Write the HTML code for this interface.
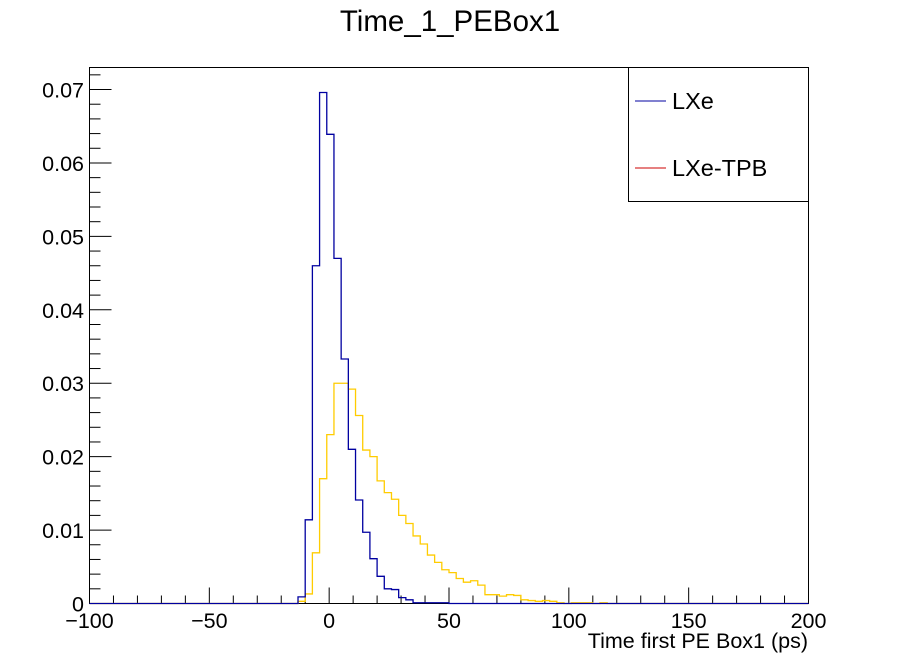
<!DOCTYPE html>
<html><head><meta charset="utf-8"><style>
body{margin:0;background:#fff;}
svg{display:block;font-family:"Liberation Sans",sans-serif;}
</style></head><body>
<svg id="c" width="898" height="671" viewBox="0 0 898 671">
<rect x="0" y="0" width="898" height="671" fill="#fff"/>
<text x="450" y="31" font-size="29.5" text-anchor="middle">Time_1_PEBox1</text>
<rect x="89.5" y="67.5" width="719" height="536" fill="none" stroke="#000" stroke-width="1"/>
<g id="axes"></g>
<g id="series"></g>
<text x="808" y="648" font-size="21.5" text-anchor="end">Time first PE Box1 (ps)</text>
<g>
<rect x="628.5" y="67.5" width="180" height="134" fill="#fff" stroke="#000" stroke-width="1"/>
<line x1="635" y1="101" x2="666" y2="101" stroke="#0000a0" stroke-width="1"/>
<text x="672" y="109" font-size="23.5">LXe</text>
<line x1="635" y1="168" x2="666" y2="168" stroke="#cc0000" stroke-width="1"/>
<text x="672" y="176" font-size="23.5">LXe-TPB</text>
</g>
</svg>
<script>
const binStart = -13;
const binWidth = 3;
const lxeValues = [0.0009,0.0114,0.0460,0.0696,0.0639,0.0470,0.0333,0.0210,0.0141,0.0097,0.0061,0.0037,0.0020,0.0019,0.0008,0.0005,0.0001,0.0001,0.0001,0.0001,0.0001];
const tpbValues = [0.0003,0.0013,0.0069,0.0170,0.0230,0.0300,0.0300,0.0292,0.0256,0.0209,0.0200,0.0167,0.0151,0.0142,0.0120,0.0109,0.0092,0.0081,0.0066,0.0056,0.0046,0.0042,0.0034,0.0029,0.0031,0.0025,0.0012,0.0012,0.0010,0.0012,0.0011,0.0005,0.0004,0.0003,0.0004,0.0003,0.0001,0,0.0001,0.0001,0.0001,0,0.0001];
const xTicks = [-100,-50,0,50,100,150,200];
const yTicks = [0,0.01,0.02,0.03,0.04,0.05,0.06,0.07];
const xMin=-100,xMax=200,yMin=0,yMax=0.073;
const X0=89.5,X1=808.5,Y0=603.5,Y1=67.5;
function sx(v){return X0+(v-xMin)/(xMax-xMin)*(X1-X0);}
function sy(v){return Y0-(v-yMin)/(yMax-yMin)*(Y0-Y1);}
const NS='http://www.w3.org/2000/svg';
const axes=document.getElementById('axes');
const series=document.getElementById('series');
function mk(tag,attrs,parent){const e=document.createElementNS(NS,tag);for(const k in attrs)e.setAttribute(k,attrs[k]);parent.appendChild(e);return e;}
for(let v=xMin;v<=xMax;v+=10){
  const major=(v%50===0);
  const t=mk('line',{x1:sx(v),x2:sx(v),y1:Y0,y2:Y0-(major?16:8),stroke:'#000','stroke-width':1},axes);
  
  
}
xTicks.forEach(v=>{
  const t=mk('text',{x:sx(v),y:628,'font-size':21.5,'text-anchor':'middle'},axes);
  t.textContent=(v<0?'\u2212'+(-v):String(v));
  
  
});
for(let i=0;i<=36;i++){
  const v=i*0.002;
  const major=(i%5===0);
  const t=mk('line',{x1:X0,x2:X0+(major?22:11),y1:sy(v),y2:sy(v),stroke:'#000','stroke-width':1},axes);
  
  
}
yTicks.forEach(v=>{
  const t=mk('text',{x:84,y:sy(v)+8,'font-size':21.5,'text-anchor':'end'},axes);
  t.textContent=v===0?'0':v.toFixed(2);
  
  
});
function histPath(vals){
  let d='M'+X0+','+sy(0)+' L'+sx(binStart)+','+sy(0);
  vals.forEach((v,i)=>{
    const a=binStart+i*binWidth,b=a+binWidth;
    d+=' L'+sx(a)+','+sy(v)+' L'+sx(b)+','+sy(v);
  });
  const end=binStart+vals.length*binWidth;
  d+=' L'+sx(end)+','+sy(0)+' L'+X1+','+sy(0);
  return d;
}
const p2=mk('path',{d:histPath(tpbValues),fill:'none',stroke:'#ffcc00','stroke-width':1.3},series);


const p1=mk('path',{d:histPath(lxeValues),fill:'none',stroke:'#0000a0','stroke-width':1.3},series);


</script>
</body></html>
